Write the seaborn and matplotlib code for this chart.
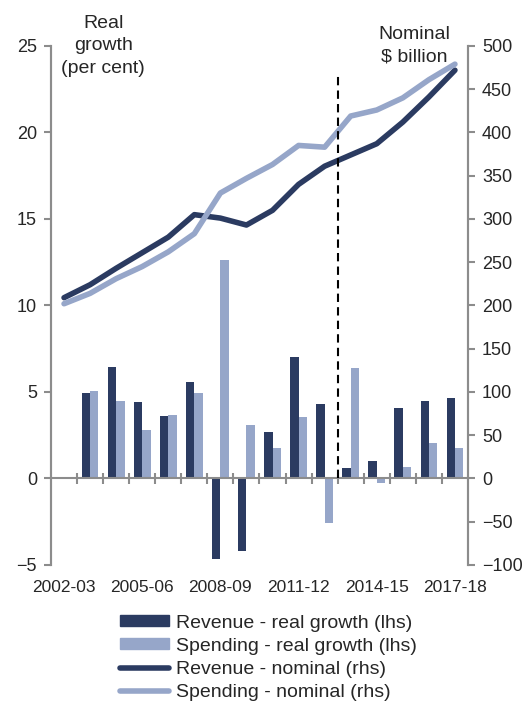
import numpy as np
import pandas as pd
import matplotlib
matplotlib.use("Agg")
import matplotlib.pyplot as plt
from matplotlib.patches import Patch
from matplotlib.lines import Line2D
import seaborn as sns

# ---------------- data ----------------
years = ["2002-03", "2003-04", "2004-05", "2005-06", "2006-07", "2007-08",
         "2008-09", "2009-10", "2010-11", "2011-12", "2012-13", "2013-14",
         "2014-15", "2015-16", "2016-17", "2017-18"]
revenue_real = [np.nan, 4.95, 6.45, 4.4, 3.6, 5.6, -4.65, -4.2, 2.7, 7.0,
                4.3, 0.6, 1.0, 4.1, 4.5, 4.65]
spending_real = [np.nan, 5.05, 4.5, 2.8, 3.65, 4.95, 12.6, 3.1, 1.75, 3.55,
                 -2.6, 6.4, -0.25, 0.65, 2.05, 1.75]
revenue_nominal = [209, 224, 243, 261, 279, 305, 301, 293, 310, 340, 361,
                   374, 387, 412, 441, 472]
spending_nominal = [202, 214, 231, 245, 262, 283, 330, 347, 363, 385, 383,
                    419, 426, 440, 461, 479]
shown_labels = ["2002-03", "2005-06", "2008-09", "2011-12", "2014-15", "2017-18"]
bar_series = ["Revenue - real growth (lhs)", "Spending - real growth (lhs)"]
line_series = ["Revenue - nominal (rhs)", "Spending - nominal (rhs)"]
forecast_boundary = "2013-14"  # dashed line drawn just before this year

DARK = "#2B3B61"
LIGHT = "#96A6C9"
GREY = "#8C8C8C"

sns.set_style("white")
plt.rcParams["font.family"] = ["Liberation Sans", "DejaVu Sans"]

bars = pd.DataFrame({
    "year": years * 2,
    "value": revenue_real + spending_real,
    "series": [bar_series[0]] * len(years) + [bar_series[1]] * len(years),
})
idx = np.arange(len(years))
lines = pd.DataFrame({
    "pos": np.concatenate([idx, idx]),
    "value": revenue_nominal + spending_nominal,
    "series": [line_series[0]] * len(years) + [line_series[1]] * len(years),
})

fig = plt.figure(figsize=(5.27, 7.05), dpi=100)
ax = fig.add_axes([0.0968, 0.1986, 0.7912, 0.7362])

sns.barplot(data=bars, x="year", y="value", hue="series", order=years,
            hue_order=bar_series, palette=[DARK, LIGHT], width=0.64,
            saturation=1, legend=False, ax=ax, linewidth=0)

ax2 = ax.twinx()
sns.lineplot(data=lines, x="pos", y="value", hue="series",
             hue_order=line_series, palette=[DARK, LIGHT], linewidth=4,
             legend=False, ax=ax2)

n = len(years)
ax.set_xlim(-0.5, n - 0.5)
ax.set_ylim(-5, 25)
ax2.set_ylim(-100, 500)
ax.set_yticks(np.arange(-5, 26, 5))
ax2.set_yticks(np.arange(-100, 501, 50))
ax.set_xlabel("")
ax.set_ylabel("")
ax2.set_xlabel("")
ax2.set_ylabel("")

# x labels at bottom
ax.set_xticks([years.index(l) for l in shown_labels], shown_labels)
ax.tick_params(axis="x", length=0, pad=11, labelsize=12.5)

# zero line with category separators
ax.axhline(0, color=GREY, lw=1.5, zorder=1)
sep = np.arange(n - 1) + 0.5
ax.vlines(sep, -0.3, 0.3, color=GREY, lw=1.5, zorder=1)

# dashed forecast line
xb = years.index(forecast_boundary) - 0.5
ax2.axvline(xb, ymin=100 / 600, ymax=570 / 600, color="black", lw=1.5,
            ls=(0, (4, 2.5)), zorder=5)

for a in (ax, ax2):
    for s in ("top", "bottom"):
        a.spines[s].set_visible(False)
    a.spines["left"].set_color(GREY)
    a.spines["right"].set_color(GREY)
    a.spines["left"].set_linewidth(1.5)
    a.spines["right"].set_linewidth(1.5)
ax.tick_params(axis="y", direction="out", length=5, width=1.5, color=GREY,
               labelsize=13, pad=5, left=True)
ax2.tick_params(axis="y", direction="out", length=5, width=1.5, color=GREY,
                labelsize=13, pad=5, right=True)

# axis titles
ax.text(0.125, 1.0, "Real\ngrowth\n(per cent)", transform=ax.transAxes,
        ha="center", va="center", fontsize=14, linespacing=1.45)
ax.text(0.872, 1.0, "Nominal\n$ billion", transform=ax.transAxes,
        ha="center", va="center", fontsize=14, linespacing=1.45)

handles = [Patch(color=DARK), Patch(color=LIGHT),
           Line2D([], [], color=DARK, lw=4, solid_capstyle="round"),
           Line2D([], [], color=LIGHT, lw=4, solid_capstyle="round")]
fig.legend(handles, bar_series + line_series, loc="upper left",
           bbox_to_anchor=(0.228, 0.128), frameon=False, fontsize=14,
           handlelength=2.5, handleheight=0.5, handletextpad=0.35,
           labelspacing=0.31, borderpad=0, borderaxespad=0)

fig.savefig("out.png", dpi=100)
